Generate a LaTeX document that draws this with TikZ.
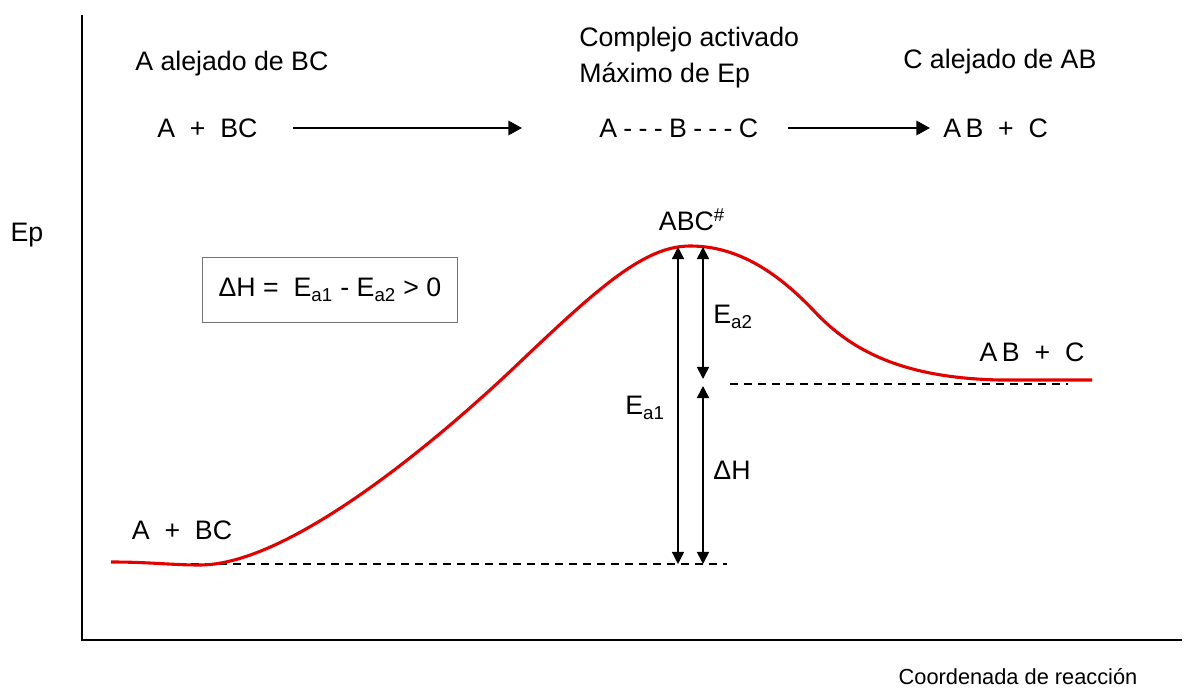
\documentclass[tikz,border=0pt]{standalone}
\usepackage{fontspec}
\setmainfont{Liberation Sans}
\usetikzlibrary{arrows.meta,positioning}

\begin{document}
\begin{tikzpicture}[
    x=0.025cm, y=-0.025cm,
    lbl/.style={font=\fontsize{19}{25.5}\selectfont, inner sep=0pt},
    arrow/.style={-{Triangle[length=0.34cm, width=0.36cm]}, line width=1.4pt},
    gap/.style={{Triangle[length=0.3cm, width=0.3cm]}-{Triangle[length=0.3cm, width=0.3cm]}, line width=1.2pt},
    level/.style={dash pattern=on 0.2cm off 0.15cm, line width=0.8pt},
    curve/.style={red!90!black, line width=2.2pt},
    axis/.style={line width=1.8pt}
]
    \useasboundingbox (0,0) rectangle (1184,688);

    % axes
    \draw[axis] (82,15) -- (82,640) -- (1182,640);
    \node[lbl] (ep) at (27,235) {Ep};
    \node[font=\fontsize{15.5}{18}\selectfont, inner sep=0pt] (xlab) at (1018,677) {Coordenada de reacción};

    % top row
    \node[lbl, anchor=west] (farA) at (135,64) {A alejado de BC};
    \node[lbl, anchor=west, align=left] (complejo) at (579,58) {Complejo activado\\Máximo de Ep};
    \node[lbl, anchor=west] (farC) at (903,62) {C alejado de AB};
    \node[lbl, anchor=west] (react) at (157,128) {A\ \ +\ \ BC};
    \node[lbl, anchor=west] (complex) at (599,128) {A\hspace{4.5pt}-\hspace{4.5pt}-\hspace{4.5pt}-\hspace{4.5pt}B\hspace{4.5pt}-\hspace{4.5pt}-\hspace{4.5pt}-\hspace{4.5pt}C};
    \node[lbl, anchor=west] (prod) at (943,128) {A\,B\ \ +\ \ C};
    \coordinate (a1s) at (293,128);
    \coordinate (a1e) at (522,128);
    \coordinate (a2s) at (788,128);
    \coordinate (a2e) at (930,128);
    \draw[arrow] (a1s) -- (a1e);
    \draw[arrow] (a2s) -- (a2e);

    % levels
    \coordinate (r0) at (163,564);
    \coordinate (r1) at (727,564);
    \coordinate (p0) at (730,384);
    \coordinate (p1) at (1068,384);
    \draw[level] (r0) -- (r1);
    \draw[level] (p0) -- (p1);

    % energy curve
    \coordinate (start) at (111,562);
    \coordinate (low) at (200,565);
    \coordinate (rise) at (520,362);
    \coordinate (peak) at (690,246);
    \coordinate (fall) at (815,312);
    \coordinate (high) at (1000,380);
    \coordinate (end) at (1092,380);
    \draw[curve] (start) .. controls (150,562) and (170,565) .. (low)
        .. controls (300,565) and (470,410) .. (rise)
        .. controls (600,286) and (645,246) .. (peak)
        .. controls (740,246) and (780,275) .. (fall)
        .. controls (850,349) and (900,378) .. (high) -- (end);

    % energy gaps
    \coordinate (ea1top) at (678,247);
    \coordinate (ea1bot) at (678,564);
    \coordinate (ea2top) at (703,247);
    \coordinate (ea2bot) at (703,379);
    \coordinate (dhtop) at (703,386);
    \coordinate (dhbot) at (703,564);
    \draw[gap, line width=0.9pt] (ea1top) -- (ea1bot);
    \draw[gap] (ea2top) -- (ea2bot);
    \draw[gap] (dhtop) -- (dhbot);

    \node[lbl] (abc) at (692,220) {ABC\textsuperscript{\#}};
    \node[lbl] (ea2) at (733,317) {E\textsubscript{a2}};
    \node[lbl] (ea1) at (645,408) {E\textsubscript{a1}};
    \node[lbl] (dh) at (732,470) {ΔH};
    \node[lbl] (lowlbl) at (182,530) {A\ \ +\ \ BC};
    \node[lbl] (highlbl) at (1032,352) {A\,B\ \ +\ \ C};

    \node[lbl, draw=black!55, line width=0.9pt, minimum width=6.375cm, minimum height=1.625cm] (eq) at (330,290) {ΔH =\ \ E\textsubscript{a1} - E\textsubscript{a2} > 0};
\end{tikzpicture}
\end{document}
